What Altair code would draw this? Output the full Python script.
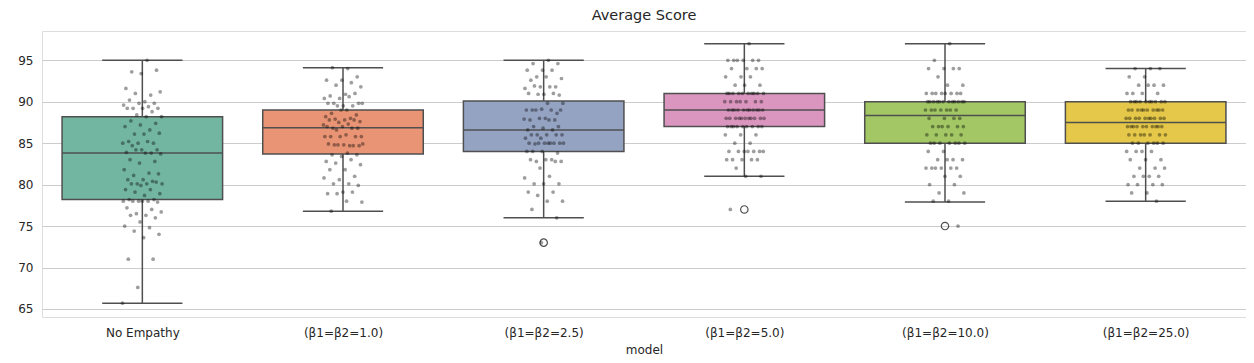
import altair as alt
import pandas as pd

models = ["No Empathy", "(β1=β2=1.0)", "(β1=β2=2.5)", "(β1=β2=5.0)", "(β1=β2=10.0)", "(β1=β2=25.0)"]

# box summary
q1 = [78.2, 83.7, 84.0, 87.0, 85.0, 85.0]
median = [83.8, 86.85, 86.6, 89.0, 88.35, 87.5]
q3 = [88.2, 89.0, 90.1, 91.0, 90.0, 90.0]
whisk_lo = [65.7, 76.8, 76.0, 81.0, 77.9, 78.0]
whisk_hi = [95.0, 94.1, 95.0, 97.0, 97.0, 94.0]
outlier_model = ["(β1=β2=2.5)", "(β1=β2=5.0)", "(β1=β2=10.0)"]
outlier_value = [73.0, 77.0, 75.0]

# individual scores (strip points)
s_no_empathy = [95.0, 93.6, 93.8, 93.4, 91.6, 90.8, 91.0, 91.2, 90.0, 90.2, 89.8, 89.8, 89.6, 89.4,
                 89.2, 89.2, 89.2, 89.2, 88.8, 88.4, 88.2, 88.2, 87.7, 87.4, 87.2, 87.0, 86.6,
                 86.1, 86.2, 86.1, 85.2, 85.0, 85.0, 85.0, 85.2, 84.7, 84.2, 84.2, 83.9, 83.8, 84.2,
                 83.7, 83.8, 83.0, 82.8, 82.6, 81.8, 81.4, 81.1, 81.3, 80.6, 80.6, 80.4,
                 80.1, 80.1, 80.1, 80.1, 80.3, 79.9, 79.4, 79.4, 79.1, 78.9, 78.7, 78.2,
                 78.2, 78.0, 78.0, 78.0, 78.0, 77.9, 78.0, 77.2, 77.0, 76.5, 76.7, 76.3, 76.3,
                 76.0, 75.5, 75.0, 74.8, 74.4, 74.0, 73.6, 71.0, 71.0, 67.6, 65.7]
s_b1 = [94.0, 94.1, 93.0, 92.6, 92.6, 92.3, 92.0, 91.8, 90.9, 90.7, 91.0, 90.4, 90.4, 90.6,
        89.8, 89.8, 89.5, 89.8, 89.5, 89.5, 89.8, 89.0, 88.6, 88.4, 89.0, 88.2, 88.0, 87.9,
        87.6, 87.8, 87.8, 87.8, 87.5, 87.2, 87.3, 86.8, 86.8, 87.0, 87.0, 86.8, 86.6, 85.8,
        86.0, 85.8, 85.8, 85.8, 85.8, 84.7, 84.8, 84.7, 84.8, 84.9, 84.7, 84.8, 84.9,
        83.8, 83.6, 83.6, 83.4, 82.8, 83.0, 82.6, 82.4, 81.8, 81.8, 81.0, 80.6, 80.8,
        80.1, 80.1, 79.9, 79.1, 78.9, 79.1, 78.9, 77.9, 78.0, 76.8]
s_b25 = [95.0, 94.6, 94.6, 93.8, 93.8, 93.8, 93.0, 92.8, 93.0, 92.6, 91.8, 91.8, 91.6, 91.8, 91.9,
         90.8, 90.9, 91.0, 91.0, 90.9, 89.8, 89.8, 89.0, 88.6, 89.1, 89.0, 89.0, 89.0, 89.0,
         88.0, 87.8, 87.8, 88.0, 87.9, 87.8, 87.0, 87.0, 86.8, 86.6, 86.6, 86.0, 86.0,
         86.0, 86.0, 86.0, 85.6, 85.6, 85.0, 84.9, 85.0, 85.0, 85.0, 85.0, 85.0, 85.0, 85.0,
         84.0, 83.8, 84.0, 84.0, 83.0, 82.8, 82.8, 83.0, 83.0, 82.8, 82.0, 80.8, 81.0,
         80.1, 80.1, 80.1, 79.1, 79.1, 78.7, 78.0, 78.0, 77.0, 76.0, 73.0]
s_b5 = ([97] + [95] * 6 + [94] * 4 + [93] * 3 + [92] * 3 + [91] * 10 + [90] * 7 + [89] * 11 +
        [88] * 11 + [87] * 9 + [86] * 3 + [85] * 2 + [84] * 7 + [83] * 5 + [82] + [81] * 2 + [77])
s_b10 = ([97] + [95] + [94] * 4 + [93] + [92] * 2 + [91] * 8 + [90] * 12 + [89] * 7 + [88] * 4 +
         [87] * 6 + [86] * 5 + [85] * 7 + [84] * 2 + [83] * 4 + [82] * 6 + [81] * 2 + [80] * 2 +
         [79] * 2 + [78] * 2 + [75])
s_b25b = ([94] * 3 + [93] * 2 + [92] * 4 + [91] * 4 + [90] * 10 + [89] * 10 + [88] * 10 + [87] * 10 +
          [86] * 7 + [85] * 6 + [84] * 4 + [83] * 3 + [82] * 3 + [81] * 4 + [80] * 4 + [79] * 2 + [78])

scores = [s_no_empathy, s_b1, s_b25, s_b5, s_b10, s_b25b]

box_colors = ["#72b6a1", "#e99575", "#95a3c3", "#db96c0", "#a2c764", "#e5c849"]
line_color = "#4f4f4f"

box_df = pd.DataFrame({"model": models, "idx": list(range(len(models))), "q1": q1,
                       "median": median, "q3": q3, "lo": whisk_lo, "hi": whisk_hi})
pts_df = pd.DataFrame([{"model": m, "idx": i, "score": v}
                       for i, (m, vals) in enumerate(zip(models, scores)) for v in vals])
out_df = pd.DataFrame({"model": outlier_model, "value": outlier_value,
                       "idx": [models.index(m) for m in outlier_model]})

FONT = "DejaVu Sans"
label_expr = "[" + ",".join("'" + m + "'" for m in models) + "][datum.value]"

xscale = alt.Scale(domain=[-0.5, len(models) - 0.5], nice=False, zero=False)
yscale = alt.Scale(domain=[64.03, 98.53], nice=False, zero=False)
xaxis = alt.Axis(values=list(range(len(models))), labelExpr=label_expr, grid=False, ticks=False,
                 domain=False, tickSize=0, labelPadding=10, labelFontSize=12, labelColor="#262626",
                 labelFont=FONT, title="model", titleFont=FONT, titleFontSize=12,
                 titleFontWeight="normal", titleColor="#262626", titlePadding=6, labelFlush=False)
yaxis = alt.Axis(values=[65, 70, 75, 80, 85, 90, 95], grid=True, gridColor="#cccccc", ticks=False,
                 tickSize=0, domain=False, labelPadding=9, labelFontSize=12, labelColor="#262626",
                 labelFont=FONT, title=None)
color_scale = alt.Scale(domain=models, range=box_colors)

base_box = alt.Chart(box_df)

boxes = base_box.transform_calculate(x0="datum.idx - 0.4", x1="datum.idx + 0.4").mark_rect(
    stroke=line_color, strokeWidth=1.5).encode(
    x=alt.X("x0:Q", scale=xscale, axis=xaxis),
    x2="x1:Q",
    y=alt.Y("q1:Q", scale=yscale, axis=yaxis),
    y2="q3:Q",
    fill=alt.Fill("model:N", scale=color_scale, legend=None),
)
medians = base_box.transform_calculate(x0="datum.idx - 0.4", x1="datum.idx + 0.4").mark_rule(
    color=line_color, strokeWidth=1.5).encode(
    x=alt.X("x0:Q", scale=xscale), x2="x1:Q", y=alt.Y("median:Q", scale=yscale))
whisk_up = base_box.mark_rule(color=line_color, strokeWidth=1.5).encode(
    x=alt.X("idx:Q", scale=xscale), y=alt.Y("q3:Q", scale=yscale), y2="hi:Q")
whisk_dn = base_box.mark_rule(color=line_color, strokeWidth=1.5).encode(
    x=alt.X("idx:Q", scale=xscale), y=alt.Y("lo:Q", scale=yscale), y2="q1:Q")
caps_hi = base_box.transform_calculate(x0="datum.idx - 0.2", x1="datum.idx + 0.2").mark_rule(
    color=line_color, strokeWidth=1.5).encode(
    x=alt.X("x0:Q", scale=xscale), x2="x1:Q", y=alt.Y("hi:Q", scale=yscale))
caps_lo = base_box.transform_calculate(x0="datum.idx - 0.2", x1="datum.idx + 0.2").mark_rule(
    color=line_color, strokeWidth=1.5).encode(
    x=alt.X("x0:Q", scale=xscale), x2="x1:Q", y=alt.Y("lo:Q", scale=yscale))
outliers = alt.Chart(out_df).mark_point(shape="circle", filled=False, size=55, stroke=line_color,
                                        strokeWidth=1.2, opacity=1).encode(
    x=alt.X("idx:Q", scale=xscale), y=alt.Y("value:Q", scale=yscale))

points = alt.Chart(pts_df).transform_window(
    rank="row_number()", groupby=["model"]
).transform_calculate(
    xj="datum.idx + ((datum.rank * 0.6180339887) % 1 - 0.5) * 0.2"
).mark_circle(color="black", opacity=0.38, size=14).encode(
    x=alt.X("xj:Q", scale=xscale), y=alt.Y("score:Q", scale=yscale))

chart = alt.layer(boxes, medians, whisk_up, whisk_dn, caps_hi, caps_lo, outliers, points).properties(
    width=1204, height=286,
    title=alt.Title("Average Score", font=FONT, fontSize=14.5, fontWeight="normal", color="#262626",
                    anchor="middle", offset=8),
    autosize=alt.AutoSizeParams(type="none"),
    padding={"left": 34, "top": 23, "right": 0, "bottom": 38},
).configure_view(stroke="#cccccc", strokeWidth=1).configure(background="white")

chart.save("out.html", embed_options={"renderer": "svg", "actions": False})
